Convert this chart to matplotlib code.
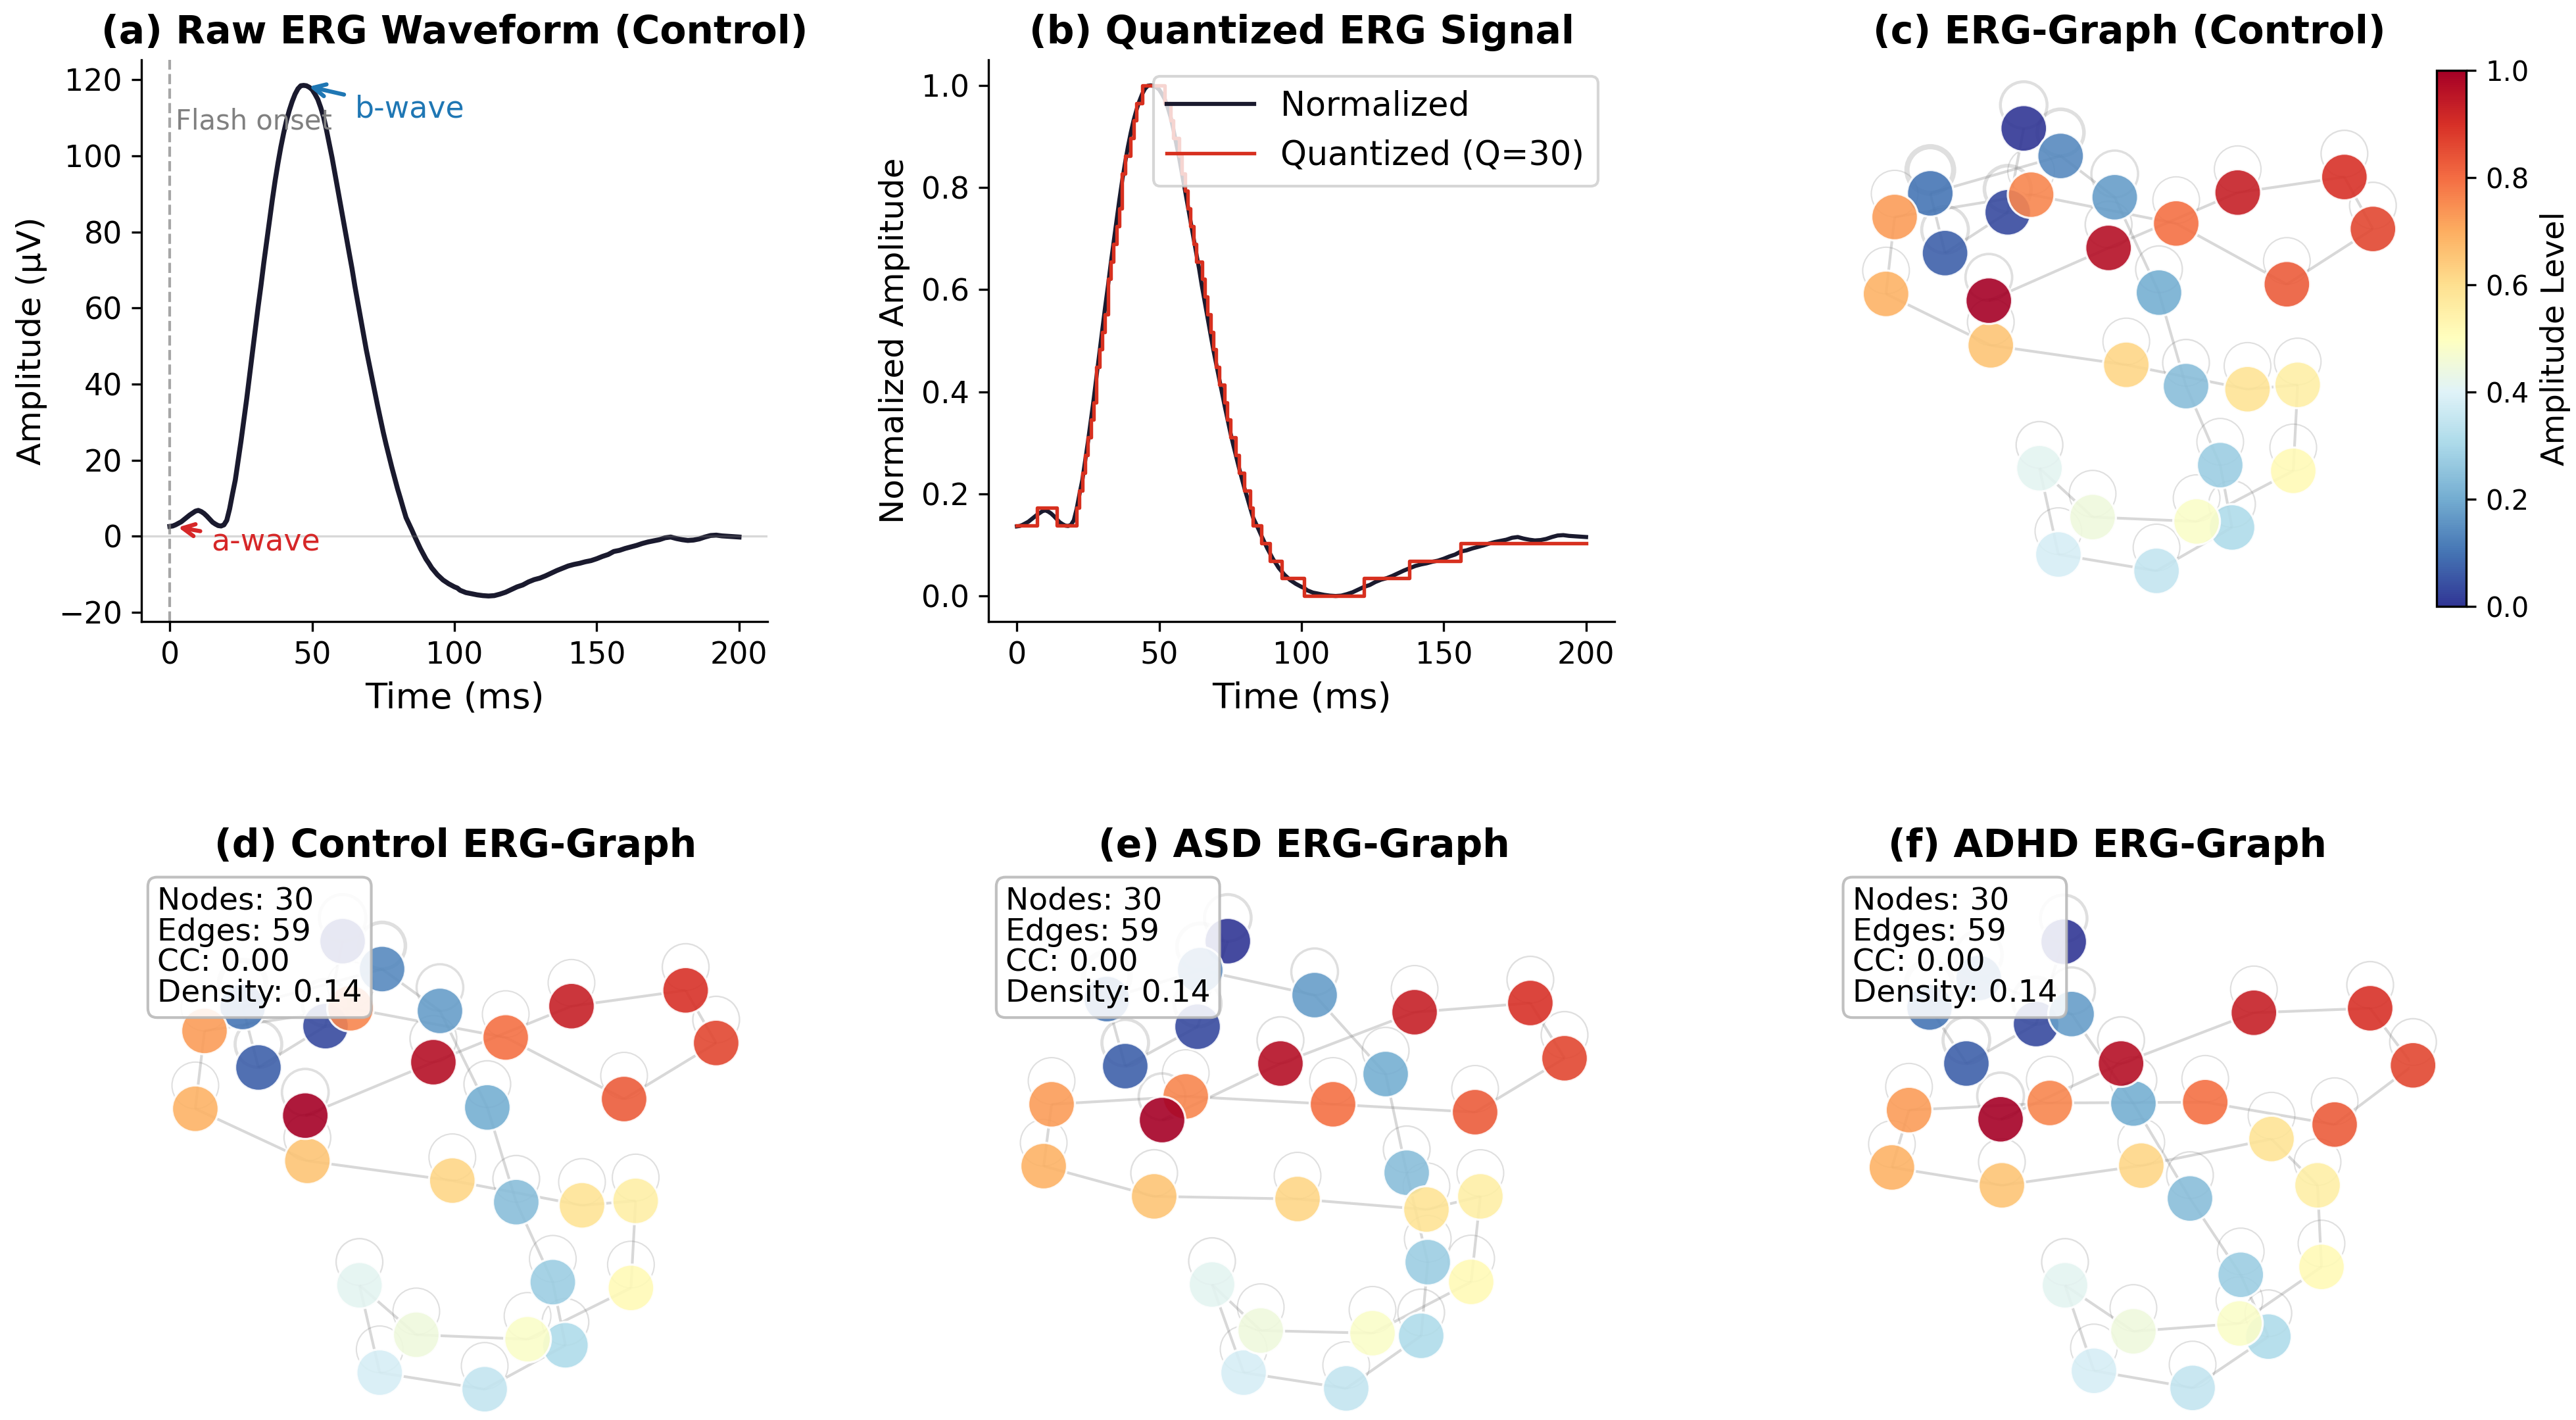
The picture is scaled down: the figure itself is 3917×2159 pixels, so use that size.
import numpy as np
import matplotlib
matplotlib.use("Agg")
import matplotlib.pyplot as plt
from matplotlib.path import Path
from matplotlib.collections import LineCollection
from matplotlib.colors import Normalize
import matplotlib.cm as cm

# ---------------- data ----------------
# control ERG waveform, 1 ms steps up to 101 ms, then 2 ms steps
time_ms = list(range(0, 102)) + list(range(102, 201, 2))
amp_uv = [
    2.6, 2.7, 3.0, 3.4, 3.8, 4.4, 5.0, 5.6, 6.1, 6.6,
    6.8, 6.5, 6.0, 5.3, 4.5, 3.7, 3.2, 2.8, 2.7, 3.0,
    4.2, 7.2, 11.1, 14.8, 19.9, 25.0, 30.6, 36.1, 42.2, 48.2,
    54.2, 60.2, 65.8, 71.8, 77.3, 82.9, 88.4, 93.5, 98.1, 102.3,
    106.0, 109.3, 112.0, 114.3, 116.2, 117.6, 118.4, 118.5, 118.4, 118.0,
    117.4, 116.2, 114.8, 112.7, 110.2, 106.9, 103.2, 99.5, 95.4, 91.2,
    87.0, 82.9, 78.7, 74.5, 70.4, 65.8, 61.6, 57.4, 53.3, 49.1,
    45.4, 41.7, 38.0, 34.3, 30.8, 27.3, 24.1, 21.1, 18.1, 15.3,
    12.5, 10.0, 7.4, 4.9, 3.3, 1.7, 0.0, -1.6, -3.2, -4.6,
    -6.0, -7.1, -8.3, -9.2, -10.1, -10.8, -11.5, -12.0, -12.5, -12.9,
    -13.3, -13.6,
    # 102 .. 200 every 2 ms
    -14.2, -14.8, -15.1, -15.4, -15.6, -15.7, -15.6, -15.2, -14.7, -14.0,
    -13.3, -12.8, -12.0, -11.4, -11.0, -10.4, -9.7, -9.0, -8.4, -7.8,
    -7.4, -7.1, -6.7, -6.4, -5.9, -5.3, -4.8, -4.0, -3.7, -3.2,
    -2.8, -2.4, -1.9, -1.5, -1.2, -0.9, -0.4, -0.2, -0.6, -0.9,
    -1.1, -1.0, -0.7, -0.2, 0.2, 0.3, 0.1, 0.0, -0.1, -0.2,
]
Q_LEVELS = 30

# ERG-graph layouts: node k = quantisation level k (0..29)
ctrl_x = [-0.43, -0.495, -0.75, -0.81, -0.28, -0.06, 0.12, 0.23, 0.369, 0.417,
          0.11, -0.289, -0.366, -0.15, 0.273, 0.666, 0.684, 0.48, -0.013, -0.564,
          -0.99, -0.955, -0.40, 0.19, 0.64, 0.99, 0.874, 0.44, -0.085, -0.572]
ctrl_y = [0.85, 0.527, 0.37, 0.60, 0.744, 0.585, 0.218, -0.142, -0.446, -0.686,
          -0.853, -0.79, -0.458, -0.646, -0.663, -0.468, -0.137, -0.154, -0.06, 0.015,
          0.213, 0.509, 0.595, 0.484, 0.25, 0.463, 0.663, 0.603, 0.39, 0.187]

asd_x = [-0.29, -0.405, -0.68, -0.75, -0.395, 0.04, 0.31, 0.39, 0.47, 0.445,
         0.16, -0.23, -0.35, -0.165, 0.26, 0.635, 0.67, 0.465, -0.025, -0.57,
         -0.99, -0.96, -0.45, 0.11, 0.65, 0.99, 0.86, 0.42, -0.09, -0.54]
asd_y = [0.85, 0.525, 0.375, 0.63, 0.74, 0.645, 0.345, -0.03, -0.37, -0.65,
         -0.85, -0.79, -0.455, -0.63, -0.64, -0.445, -0.12, -0.17, -0.13, -0.12,
         -0.005, 0.23, 0.26, 0.23, 0.2, 0.405, 0.615, 0.58, 0.385, 0.17]

adhd_x = [-0.165, -0.27, -0.535, -0.675, -0.488, -0.135, 0.1, 0.315, 0.508, 0.613,
          0.325, -0.05, -0.16, 0.1, 0.503, 0.815, 0.8, 0.625, 0.13, -0.4,
          -0.818, -0.753, -0.218, 0.373, 0.865, 1.163, 1.0, 0.558, 0.053, -0.405]
adhd_y = [0.848, 0.535, 0.385, 0.598, 0.71, 0.573, 0.233, -0.128, -0.418, -0.653,
          -0.848, -0.783, -0.458, -0.633, -0.603, -0.388, -0.078, 0.098, -0.003, -0.078,
          -0.01, 0.208, 0.235, 0.238, 0.153, 0.378, 0.595, 0.578, 0.385, 0.173]

# ---------------- derived signals ----------------
t = np.array(time_ms)
raw = np.array(amp_uv)
norm = (raw - raw.min()) / (raw.max() - raw.min())
quant_idx = np.round(norm * (Q_LEVELS - 1)).astype(int)
quant = quant_idx / (Q_LEVELS - 1)

# graph: transitions between successive levels, self loops on every level
levels = np.arange(Q_LEVELS)
edges = [(k, k + 1) for k in range(Q_LEVELS - 1)]
stay = np.zeros(Q_LEVELS)
for a, b in zip(quant_idx[:-1], quant_idx[1:]):
    if a == b:
        stay[a] += 1
loop_lw = 0.5 + 1.4 * stay / stay.max()

n_nodes = Q_LEVELS
n_edges = len(edges) + n_nodes
density = 2 * n_edges / (n_nodes * (n_nodes - 1))
adj = np.zeros((n_nodes, n_nodes))
for a, b in edges:
    adj[a, b] = adj[b, a] = 1
deg = adj.sum(1)
tri = np.diag(adj @ adj @ adj) / 2
cc = np.mean([2 * tri[i] / (deg[i] * (deg[i] - 1)) if deg[i] > 1 else 0 for i in range(n_nodes)])
stats = f"Nodes: {n_nodes}\nEdges: {n_edges}\nCC: {cc:.2f}\nDensity: {density:.2f}"

# ---------------- figure ----------------
W, H = 3917, 2159
fig = plt.figure(figsize=(W / 300, H / 300), dpi=300)

NAVY = "#1a1a2e"

# (a) raw waveform
ax = fig.add_axes([0.05489, 0.56230, 0.24305, 0.39555])
ax.plot(t, raw, color=NAVY, lw=1.8)
ax.axvline(0, color="gray", ls="--", lw=1, alpha=0.7)
ax.axhline(0, color="gray", lw=0.8, alpha=0.3)
ax.text(2, 107, "Flash onset", fontsize=10, color="gray")
ax.annotate("a-wave", xy=(1, 2.6), xytext=(14.5, -3.8), fontsize=11, color="#d62728",
            arrowprops=dict(arrowstyle="->", color="#d62728", lw=1.5))
ax.annotate("b-wave", xy=(t[np.argmax(raw)], raw.max()), xytext=(65, 110), fontsize=11,
            color="#1f77b4", arrowprops=dict(arrowstyle="->", color="#1f77b4", lw=1.5))
ax.set_xlabel("Time (ms)", fontsize=13)
ax.set_ylabel("Amplitude (μV)", fontsize=12)
ax.set_title("(a) Raw ERG Waveform (Control)", fontsize=14, fontweight="bold")
ax.tick_params(labelsize=11)
ax.spines[["top", "right"]].set_visible(False)

# (b) quantized signal
ax = fig.add_axes([0.38371, 0.56230, 0.24305, 0.39555])
ax.plot(t, norm, color=NAVY, lw=1.5, label="Normalized")
ax.step(t, quant, where="post", color="#d7301f", lw=1.3, label=f"Quantized (Q={Q_LEVELS})")
ax.set_xlabel("Time (ms)", fontsize=13)
ax.set_ylabel("Normalized Amplitude", fontsize=12)
ax.set_title("(b) Quantized ERG Signal", fontsize=14, fontweight="bold")
ax.tick_params(labelsize=11)
ax.legend(loc="upper right", fontsize=12.2, handlelength=2.6)
ax.spines[["top", "right"]].set_visible(False)

# graph panels
loop_marker = Path.circle((0, 1), 1)
cmap = plt.get_cmap("RdYlBu_r")


def draw_graph(ax, xs, ys, title, ylim, box_x=None):
    xs = np.asarray(xs)
    ys = np.asarray(ys)
    segs = [[(xs[a], ys[a]), (xs[b], ys[b])] for a, b in edges]
    ax.add_collection(LineCollection(segs, colors="gray", alpha=0.3, linewidths=1.0, zorder=1))
    ax.scatter(xs, ys, s=1160, marker=loop_marker, facecolors="none", edgecolors="gray",
               alpha=0.25, linewidths=loop_lw, zorder=1, clip_on=False)
    ax.scatter(xs, ys, s=290, c=levels / (Q_LEVELS - 1), cmap=cmap, vmin=0, vmax=1,
               alpha=0.9, edgecolors="white", linewidths=0.8, zorder=2, clip_on=False)
    ax.set_xlim(-1.15, 1.15)
    ax.set_ylim(*ylim)
    ax.set_title(title, fontsize=14, fontweight="bold")
    ax.axis("off")
    if box_x is not None:
        ax.text(box_x, 0.976, stats, transform=ax.transAxes, fontsize=11.3, linespacing=1.05,
                va="top", ha="left",
                bbox=dict(boxstyle="round", facecolor="white", edgecolor="0.72", alpha=0.88),
                zorder=5)


ax = fig.add_axes([0.71688, 0.55026, 0.21956, 0.40760])
draw_graph(ax, ctrl_x, ctrl_y, "(c) ERG-Graph (Control)", (-1.1139, 1.1139))

cax = fig.add_axes([0.94588, 0.57295, 0.01149, 0.37749])
sm = cm.ScalarMappable(norm=Normalize(0, 1), cmap=cmap)
cb = fig.colorbar(sm, cax=cax)
cb.set_label("Amplitude Level", fontsize=11.5)
cb.ax.tick_params(labelsize=10)

bottom_ylim = (-0.95, 1.1075)
ax = fig.add_axes([0.05948, 0.00371, 0.23487, 0.38119])
draw_graph(ax, ctrl_x, ctrl_y, "(d) Control ERG-Graph", bottom_ylim, box_x=0.0065)
ax = fig.add_axes([0.38882, 0.00371, 0.23487, 0.38119])
draw_graph(ax, asd_x, asd_y, "(e) ASD ERG-Graph", bottom_ylim, box_x=0.0065)
ax = fig.add_axes([0.70054, 0.00371, 0.23487, 0.38119])
draw_graph(ax, adhd_x, adhd_y, "(f) ADHD ERG-Graph", bottom_ylim, box_x=0.079)

fig.savefig("out.png", dpi=300, facecolor="white")
